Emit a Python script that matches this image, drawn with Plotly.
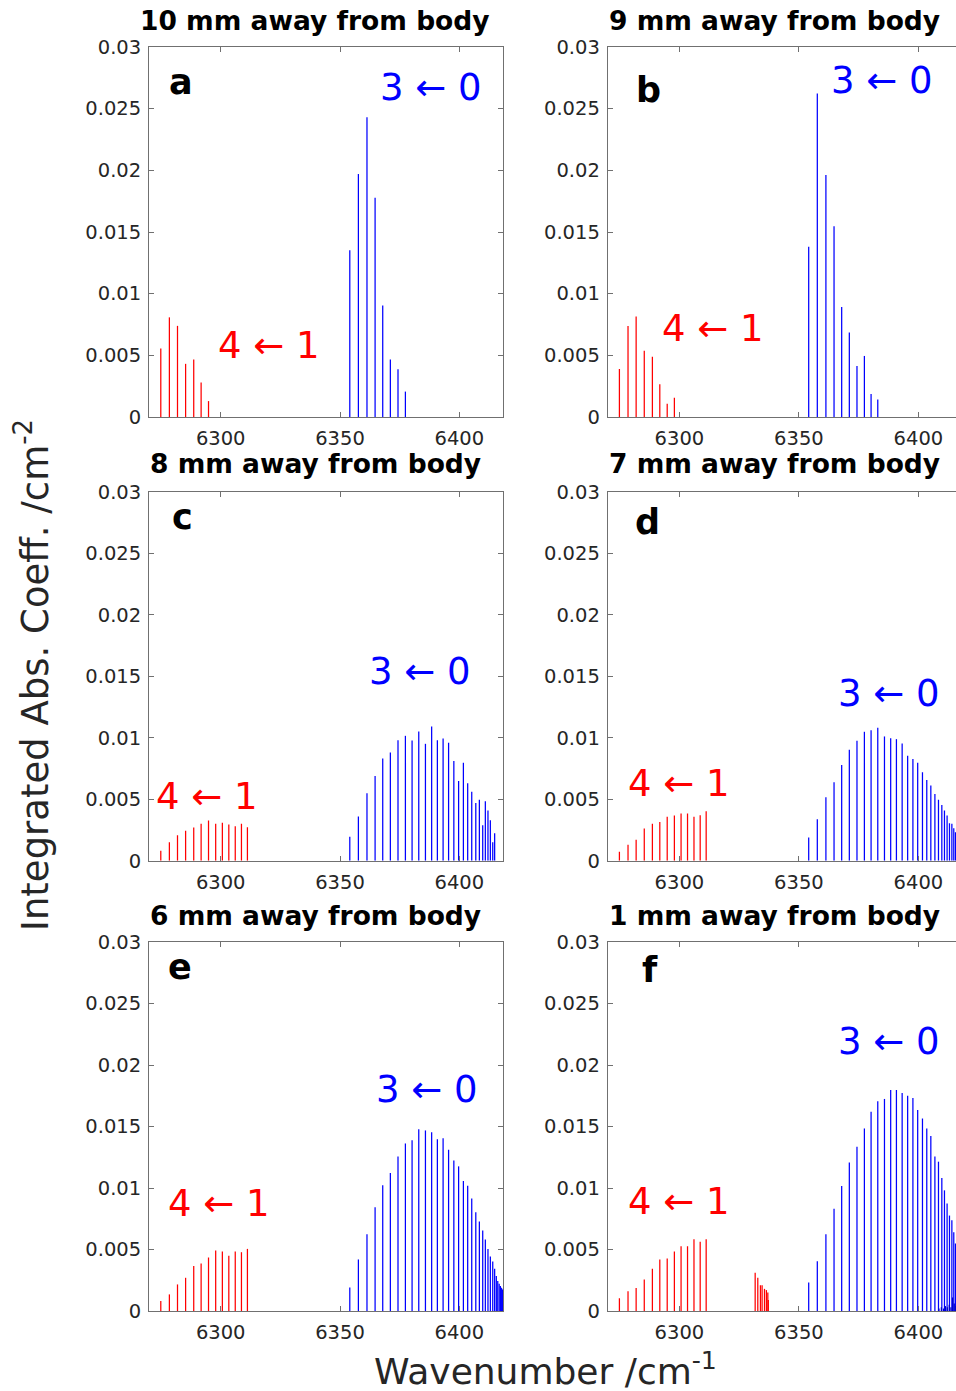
import plotly.graph_objects as go

# ---------------- data ----------------
RED_WN = [6274.9, 6278.5, 6281.9, 6285.3, 6288.7, 6291.8, 6294.9, 6297.9,
          6300.7, 6303.4, 6306.1, 6308.7, 6311.2]
BLUE_WN = [6354.1, 6357.7, 6361.3, 6364.7, 6367.9, 6371.1, 6374.3, 6377.4,
           6380.2, 6383.0, 6385.8, 6388.4, 6390.8, 6393.2, 6395.5, 6397.7,
           6399.7, 6401.7, 6403.5, 6405.2, 6406.9, 6408.4, 6409.8, 6410.9,
           6412.0, 6413.0, 6414.0, 6414.8, 6415.5, 6416.1, 6416.7, 6417.2,
           6417.6, 6417.9, 6418.1]
F_RED_EXTRA_WN = [6331.7, 6332.8, 6333.9, 6334.6, 6335.6, 6336.4, 6337.0, 6337.2]
F_BLUE_EXTRA_WN = [6408.6, 6409.6, 6410.5, 6411.3, 6412.1, 6412.9, 6413.6,
                   6414.3, 6415.0, 6415.6]

A_RED = [0.00555, 0.00808, 0.00739, 0.00431, 0.00467, 0.0028, 0.00129]
A_BLUE = [0.01352, 0.0197, 0.0243, 0.01777, 0.00904, 0.00467, 0.00387, 0.00206]

B_RED = [0.00389, 0.00738, 0.00814, 0.00538, 0.00489, 0.00265, 0.00108, 0.00157]
B_BLUE = [0.01381, 0.02622, 0.01962, 0.01546, 0.00892, 0.00686, 0.00414,
          0.00495, 0.00186, 0.00141]

C_RED = [0.00081, 0.00151, 0.00208, 0.00243, 0.0027, 0.003, 0.00327, 0.003,
         0.00308, 0.00295, 0.00281, 0.003, 0.00273]
C_BLUE = [0.00195, 0.0036, 0.00549, 0.00689, 0.00832, 0.00881, 0.00981,
          0.01016, 0.00978, 0.01051, 0.00951, 0.01092, 0.00981, 0.00995,
          0.0096, 0.00811, 0.00649, 0.00797, 0.0063, 0.00562, 0.0047,
          0.00495, 0.00289, 0.00484, 0.00408, 0.0033, 0.00151, 0.00224]

D_RED = [0.00073, 0.0013, 0.0017, 0.00262, 0.003, 0.00314, 0.00357, 0.00368,
         0.00384, 0.00384, 0.00357, 0.0037, 0.00403]
D_BLUE = [0.00189, 0.00338, 0.00516, 0.00638, 0.00778, 0.00903, 0.00976,
          0.01049, 0.01062, 0.01081, 0.01011, 0.00997, 0.00989, 0.00954,
          0.00854, 0.00827, 0.00797, 0.00719, 0.00657, 0.00611, 0.00543,
          0.00495, 0.00454, 0.00408, 0.00368, 0.00305, 0.003, 0.00265, 0.00232]

E_RED = [0.00081, 0.00135, 0.00216, 0.0027, 0.00365, 0.00386, 0.00435,
         0.00492, 0.00484, 0.00449, 0.00484, 0.00478, 0.00505]
E_BLUE = [0.00192, 0.00419, 0.00624, 0.00843, 0.01022, 0.01122, 0.01257,
          0.01362, 0.01389, 0.01478, 0.01468, 0.01454, 0.01397, 0.01405,
          0.01311, 0.01224, 0.01176, 0.01057, 0.01019, 0.00914, 0.00803,
          0.00727, 0.00654, 0.00581, 0.00505, 0.00443, 0.00403, 0.00343,
          0.00284, 0.00243, 0.00222, 0.00203, 0.0019, 0.0018, 0.0017]

F_RED = [0.00103, 0.0016, 0.00186, 0.00257, 0.00343, 0.00419, 0.00427,
         0.00484, 0.00527, 0.00527, 0.00584, 0.00562, 0.00584]
F_RED_EXTRA = [0.0031, 0.0027, 0.0021, 0.0021, 0.0018, 0.0017, 0.0015, 0.0009]
F_BLUE = [0.00232, 0.00405, 0.00624, 0.00832, 0.01016, 0.01208, 0.01335,
          0.01484, 0.01619, 0.01705, 0.01724, 0.01797, 0.01797, 0.01773,
          0.01751, 0.01732, 0.01635, 0.01565, 0.01484, 0.01422, 0.01257,
          0.01214, 0.01081, 0.00981, 0.00873, 0.00776, 0.00738, 0.00641, 0.00549]
F_BLUE_EXTRA = [0.0002, 0.0003, 0.0002, 0.0004, 0.0003, 0.0005, 0.0003,
                0.0011, 0.0006, 0.0004]

TITLES = ["10 mm away from body", "9 mm away from body", "8 mm away from body",
          "7 mm away from body", "6 mm away from body", "1 mm away from body"]
LETTERS = ["a", "b", "c", "d", "e", "f"]
Y_TICKS = [0, 0.005, 0.01, 0.015, 0.02, 0.025, 0.03]
Y_TICKTEXT = ["0", "0.005", "0.01", "0.015", "0.02", "0.025", "0.03"]
X_TICKS = [6300, 6350, 6400]

# annotation positions (data coords) per panel: letter, 3<-0, 4<-1
LETTER_POS = [(6283.4, 0.0272), (6286.9, 0.0265), (6283.8, 0.0280),
              (6286.7, 0.0276), (6283.0, 0.0280), (6287.6, 0.0277)]
BAND30_POS = [(6388.1, 0.0267), (6384.8, 0.0273), (6383.6, 0.0154),
              (6387.7, 0.0136), (6386.5, 0.0180), (6387.7, 0.0219)]
BAND41_POS = [(6320.2, 0.0058), (6314.0, 0.0072), (6294.3, 0.0052),
              (6299.9, 0.0063), (6299.4, 0.0087), (6299.9, 0.0089)]

# ---------------- layout geometry ----------------
W, H = 956, 1391
FONT = "DejaVu Sans"
AXCOL = "#707070"
TXTCOL = "#262626"

x_dom = [[149.1 / W, 503 / W], [607.7 / W, 1.0]]
x_rng = [[6270, 6418.3], [6270, 6415.73]]
rows_px = [(47, 417), (492, 860.7), (942, 1311)]
y_dom = [[1 - b / H, 1 - t / H] for t, b in rows_px]


def stems(xs, ys):
    sx, sy = [], []
    for x, y in zip(xs, ys):
        sx += [x, x, None]
        sy += [0, y, None]
    return sx, sy


panels = [
    [(RED_WN, A_RED, "#ff0000"), (BLUE_WN, A_BLUE, "#0000ff")],
    [(RED_WN, B_RED, "#ff0000"), (BLUE_WN, B_BLUE, "#0000ff")],
    [(RED_WN, C_RED, "#ff0000"), (BLUE_WN, C_BLUE, "#0000ff")],
    [(RED_WN, D_RED, "#ff0000"), (BLUE_WN, D_BLUE, "#0000ff")],
    [(RED_WN, E_RED, "#ff0000"), (BLUE_WN, E_BLUE, "#0000ff")],
    [(RED_WN, F_RED, "#ff0000"), (F_RED_EXTRA_WN, F_RED_EXTRA, "#ff0000"),
     (BLUE_WN, F_BLUE, "#0000ff"), (F_BLUE_EXTRA_WN, F_BLUE_EXTRA, "#0000cc")],
]

fig = go.Figure()
annotations = []
layout = {}

for i, series in enumerate(panels):
    row, col = divmod(i, 2)
    n = i + 1
    xa = "x" if n == 1 else f"x{n}"
    ya = "y" if n == 1 else f"y{n}"
    for xs, ys, color in series:
        k = min(len(xs), len(ys))
        sx, sy = stems(xs[:k], ys[:k])
        fig.add_trace(go.Scatter(x=sx, y=sy, mode="lines", xaxis=xa, yaxis=ya,
                                 line=dict(color=color, width=1.25),
                                 showlegend=False, hoverinfo="skip"))
    xkey = "xaxis" if n == 1 else f"xaxis{n}"
    ykey = "yaxis" if n == 1 else f"yaxis{n}"
    layout[xkey] = dict(domain=x_dom[col], range=x_rng[col], anchor=ya,
                        tickvals=X_TICKS, ticks="inside", ticklen=5,
                        tickcolor=AXCOL, showline=True, linecolor=AXCOL,
                        linewidth=1, mirror="ticks", showgrid=False,
                        zeroline=False, automargin=False,
                        ticklabelstandoff=4,
                        tickfont=dict(family=FONT, size=19.5, color=TXTCOL))
    layout[ykey] = dict(domain=y_dom[row], range=[0, 0.03], anchor=xa,
                        tickvals=Y_TICKS, ticktext=Y_TICKTEXT, ticks="inside",
                        ticklen=5, tickcolor=AXCOL, showline=True,
                        linecolor=AXCOL, linewidth=1,
                        mirror="ticks" if col == 0 else False,
                        showgrid=False, zeroline=False, automargin=False,
                        ticklabelstandoff=3,
                        tickfont=dict(family=FONT, size=19.5, color=TXTCOL))
    lx, ly = LETTER_POS[i]
    annotations.append(dict(x=lx, y=ly, xref=xa, yref=ya, text=f"<b>{LETTERS[i]}</b>",
                            showarrow=False, font=dict(family=FONT, size=35, color="black")))
    bx, by = BAND30_POS[i]
    annotations.append(dict(x=bx, y=by, xref=xa, yref=ya, text="3 \u2190 0",
                            showarrow=False, font=dict(family=FONT, size=37, color="#0000ff")))
    rx, ry = BAND41_POS[i]
    annotations.append(dict(x=rx, y=ry, xref=xa, yref=ya, text="4 \u2190 1",
                            showarrow=False, font=dict(family=FONT, size=37, color="#ff0000")))

# titles
title_pos = [(315, 20), (774, 20), (315.5, 463), (774, 463), (315.5, 915), (774, 915)]
for t, (px, py) in zip(TITLES, title_pos):
    annotations.append(dict(x=px / W, y=1 - py / H, xref="paper", yref="paper",
                            text=f"<b>{t}</b>", showarrow=False,
                            xanchor="center", yanchor="middle",
                            font=dict(family=FONT, size=26.5, color="black")))

annotations.append(dict(x=545 / W, y=1 - 1369 / H, xref="paper", yref="paper",
                        text="Wavenumber /cm<sup>-1</sup>", showarrow=False,
                        xanchor="center", yanchor="middle",
                        font=dict(family=FONT, size=36, color=TXTCOL)))
annotations.append(dict(x=33 / W, y=1 - 675 / H, xref="paper", yref="paper",
                        text="Integrated Abs. Coeff. /cm<sup>-2</sup>", showarrow=False,
                        textangle=-90, xanchor="center", yanchor="middle",
                        font=dict(family=FONT, size=37, color=TXTCOL)))

fig.update_layout(width=W, height=H, autosize=False,
                  margin=dict(l=0, r=0, t=0, b=0, pad=0),
                  paper_bgcolor="white", plot_bgcolor="white",
                  annotations=annotations, **layout)

fig.write_html("out.html", config={"displayModeBar": False},
               post_script="document.body.style.margin='0';"
                           "document.body.style.overflow='hidden';")
